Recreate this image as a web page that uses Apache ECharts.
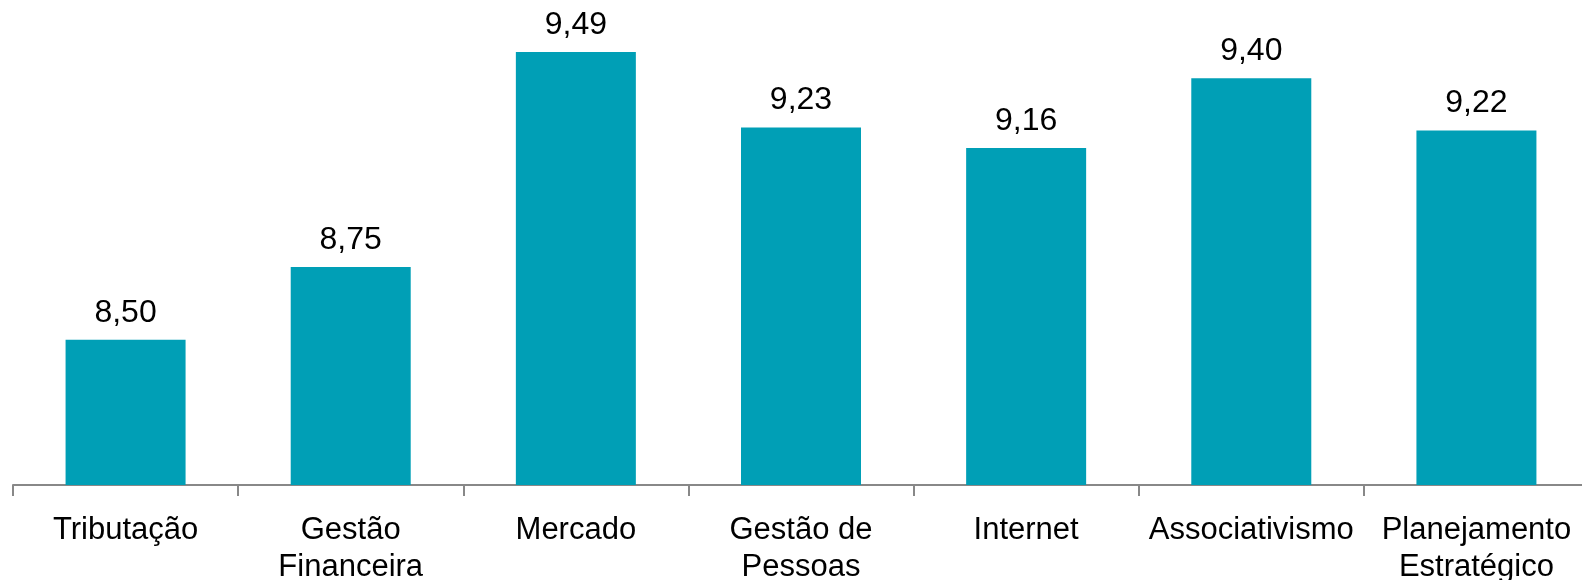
<!DOCTYPE html>
<html>
<head>
<meta charset="utf-8">
<script src="https://cdn.jsdelivr.net/npm/echarts@6/dist/echarts.min.js"></script>
<style>
html,body{margin:0;padding:0;background:#fff;}
#chart{width:1582px;height:580px;}
</style>
</head>
<body>
<div id="chart"></div>
<script>
const categories = ["Tributação", "Gestão\nFinanceira", "Mercado", "Gestão de\nPessoas", "Internet", "Associativismo", "Planejamento\nEstratégico"];
const values = [8.50, 8.75, 9.49, 9.23, 9.16, 9.40, 9.22];

const chart = echarts.init(document.getElementById('chart'), null, {renderer: 'canvas'});
chart.setOption({
  animation: false,
  backgroundColor: '#ffffff',
  grid: {left: 13, width: 1576, top: 20, bottom: 95, containLabel: false, outerBoundsMode: 'none'},
  xAxis: {
    type: 'category',
    data: categories,
    axisLine: {show: true, lineStyle: {color: '#888888', width: 2}},
    axisTick: {show: true, length: 11, lineStyle: {color: '#888888', width: 2}, alignWithLabel: false},
    axisLabel: {
      interval: 0,
      margin: 27,
      color: '#000000',
      fontFamily: 'Liberation Sans, Arial, sans-serif',
      fontSize: 31,
      lineHeight: 37
    }
  },
  yAxis: {
    type: 'value',
    min: 8,
    max: 9.6,
    show: false,
    splitLine: {show: false}
  },
  series: [{
    type: 'bar',
    data: values,
    barWidth: 120,
    itemStyle: {color: '#009FB6'},
    label: {
      show: true,
      position: 'top',
      distance: 11,
      color: '#000000',
      fontFamily: 'Liberation Sans, Arial, sans-serif',
      fontSize: 32,
      formatter: p => p.value.toFixed(2).replace('.', ',')
    }
  }]
});
</script>
</body>
</html>
